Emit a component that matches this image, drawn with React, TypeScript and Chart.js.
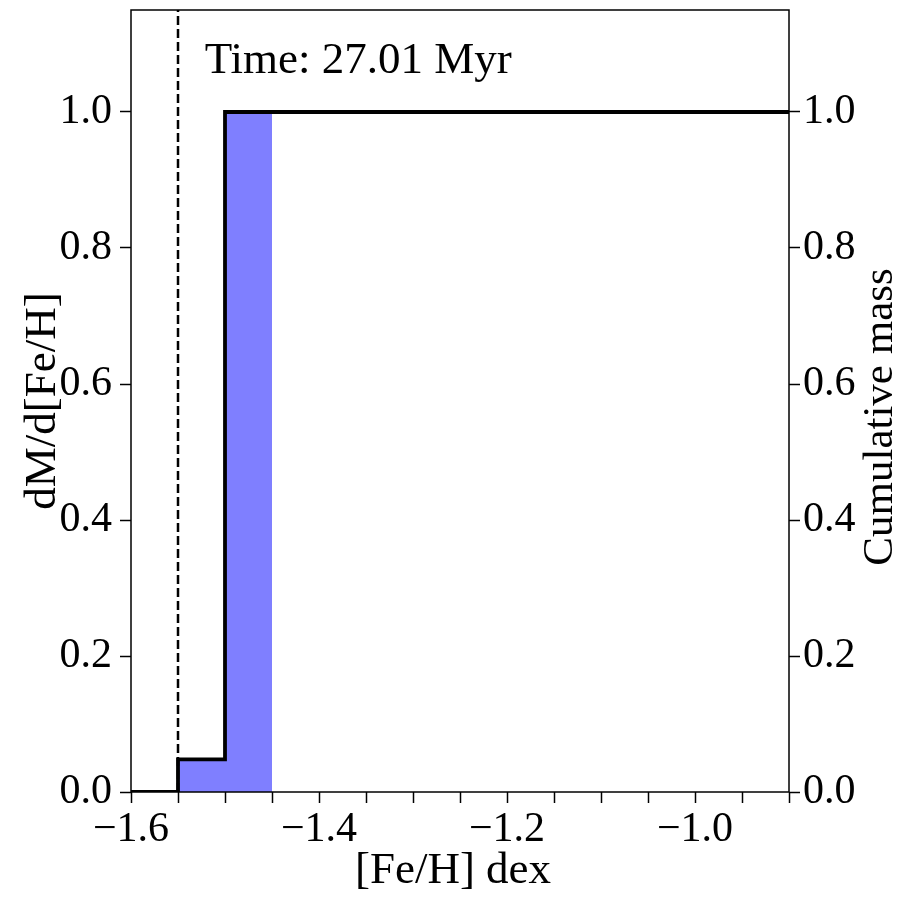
import React, { useEffect, useRef } from "react";
import { Chart, registerables } from "chart.js";

Chart.register(...registerables);

// Histogram (dM/d[Fe/H], normalised): bin left edges, right edges, heights
const binLeft = [-1.55, -1.5];
const binRight = [-1.5, -1.45];
const binHeight = [0.048, 1.0];

// Cumulative mass step curve (value holds from x to next x)
const cumX = [-1.6, -1.55, -1.5, -0.9];
const cumY = [0.0, 0.048, 1.0, 1.0];

// Vertical dashed marker
const markerX = -1.55;

const xMin = -1.6;
const xMax = -0.9;
const yMin = 0;
const yMax = 1.15;

const titleText = "Time: 27.01 Myr";
const xTitle = "[Fe/H] dex";
const yTitle = "dM/d[Fe/H]";
const y2Title = "Cumulative mass";

const FONT = "'Liberation Serif', 'Times New Roman', serif";

export default function App() {
  const ref = useRef<HTMLCanvasElement | null>(null);

  useEffect(() => {
    if (!ref.current) return;

    // histogram outline as explicit corners of each bin
    const histPts: { x: number; y: number }[] = [];
    binLeft.forEach((l, i) => {
      const prev = i === 0 ? 0 : binHeight[i - 1];
      histPts.push({ x: l, y: prev });
      histPts.push({ x: l, y: binHeight[i] });
      histPts.push({ x: binRight[i], y: binHeight[i] });
    });
    histPts.push({ x: binRight[binRight.length - 1], y: 0 });

    const cumPts: { x: number; y: number }[] = [{ x: cumX[0], y: cumY[0] }];
    for (let i = 1; i < cumX.length; i++) {
      cumPts.push({ x: cumX[i], y: cumY[i - 1] });
      cumPts.push({ x: cumX[i], y: cumY[i] });
    }

    const fmtX = (v: number) => {
      if (Math.abs(v * 5 - Math.round(v * 5)) > 1e-6) return "";
      const s = Math.abs(v).toFixed(1);
      return v < 0 ? "\u2212" + s : s;
    };

    const overlay = {
      id: "overlay",
      afterDatasetsDraw(chart: any) {
        const { ctx, chartArea } = chart;
        const { left, right, top, bottom } = chartArea;
        ctx.save();
        ctx.strokeStyle = "#000";
        ctx.lineWidth = 1.5;
        ctx.strokeRect(left, top, right - left, bottom - top);

        ctx.fillStyle = "#000";
        ctx.font = `45px ${FONT}`;
        ctx.textAlign = "left";
        ctx.textBaseline = "alphabetic";
        ctx.fillText(titleText, left + 0.112 * (right - left), top + 63);

        // x title
        ctx.textAlign = "center";
        ctx.fillText(xTitle, (left + right) / 2 - 7, 883);

        // left y title
        ctx.save();
        ctx.translate(55, (top + bottom) / 2);
        ctx.rotate(-Math.PI / 2);
        ctx.fillText(yTitle, 0, 0);
        ctx.restore();

        // right y title
        ctx.font = `43px ${FONT}`;
        ctx.save();
        ctx.translate(892, (top + bottom) / 2 + 16);
        ctx.rotate(-Math.PI / 2);
        ctx.fillText(y2Title, 0, 0);
        ctx.restore();
        ctx.restore();
      },
    };

    const tickFont = { family: FONT, size: 42 };
    const noPad = (s: any) => {
      s.paddingTop = 0;
      s.paddingBottom = 0;
      s.paddingLeft = 0;
      s.paddingRight = 0;
    };

    const chart = new Chart(ref.current, {
      type: "line",
      data: {
        datasets: [
          {
            label: "hist",
            data: histPts,
            fill: "origin",
            backgroundColor: "rgba(0,0,255,0.5)",
            borderWidth: 0,
            pointRadius: 0,
            yAxisID: "y",
            order: 3,
          },
          {
            label: "cum",
            data: cumPts,
            fill: false,
            borderColor: "#000",
            borderWidth: 3.8,
            borderJoinStyle: "miter",
            pointRadius: 0,
            yAxisID: "y2",
            order: 2,
          },
          {
            label: "marker",
            data: [
              { x: markerX, y: yMin },
              { x: markerX, y: yMax },
            ],
            borderColor: "#000",
            borderWidth: 2.5,
            borderDash: [9, 4],
            pointRadius: 0,
            fill: false,
            yAxisID: "y",
            order: 1,
          },
        ],
      },
      options: {
        animation: false,
        responsive: true,
        maintainAspectRatio: false,
        layout: { padding: { top: 10, left: 0, right: 0, bottom: 0 } },
        plugins: {
          legend: { display: false },
          tooltip: { enabled: false },
        },
        scales: {
          x: {
            type: "linear",
            min: xMin,
            max: xMax,
            border: { display: false },
            grid: {
              drawOnChartArea: false,
              drawTicks: true,
              tickLength: 11,
              tickColor: "#000",
              tickWidth: 1.5,
            },
            ticks: {
              stepSize: 0.05,
              autoSkip: false,
              maxRotation: 0,
              includeBounds: false,
              color: "#000",
              font: tickFont,
              padding: 2,
              callback: (v: any) => fmtX(Number(v)),
            },
            afterFit: (s: any) => {
              s.height = 108;
              noPad(s);
            },
          },
          y: {
            type: "linear",
            position: "left",
            min: yMin,
            max: yMax,
            border: { display: false },
            grid: {
              drawOnChartArea: false,
              tickLength: 11,
              tickColor: "#000",
              tickWidth: 1.5,
            },
            ticks: {
              stepSize: 0.2,
              includeBounds: false,
              color: "#000",
              font: tickFont,
              padding: 8,
              callback: (v: any) => Number(v).toFixed(1),
            },
            afterFit: (s: any) => {
              s.width = 131;
              noPad(s);
            },
          },
          y2: {
            type: "linear",
            position: "right",
            min: yMin,
            max: yMax,
            border: { display: false },
            grid: {
              drawOnChartArea: false,
              tickLength: 11,
              tickColor: "#000",
              tickWidth: 1.5,
            },
            ticks: {
              stepSize: 0.2,
              includeBounds: false,
              color: "#000",
              font: tickFont,
              padding: 3,
              callback: (v: any) => Number(v).toFixed(1),
            },
            afterFit: (s: any) => {
              s.width = 111;
              noPad(s);
            },
          },
        },
      },
      plugins: [overlay],
    } as any);

    return () => chart.destroy();
  }, []);

  return (
    <div
      style={{
        position: "fixed",
        left: 0,
        top: 0,
        width: 900,
        height: 900,
        background: "#fff",
      }}
    >
      <canvas ref={ref} />
    </div>
  );
}
